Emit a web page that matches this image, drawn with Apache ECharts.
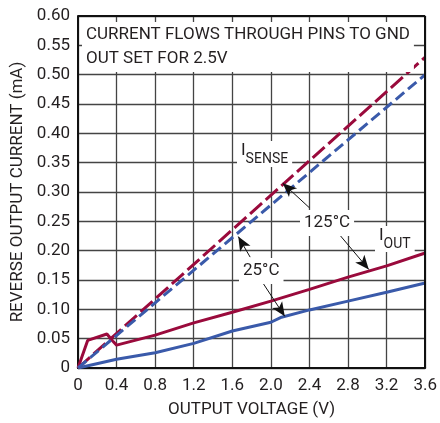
<!DOCTYPE html>
<html><head><meta charset="utf-8">
<script src="https://cdn.jsdelivr.net/npm/echarts@6/dist/echarts.min.js"></script>
<style>html,body{margin:0;padding:0;background:#fff}#c{width:440px;height:423px}</style>
</head><body><div id="c"></div>
<script>
const xTicks = [0, 0.4, 0.8, 1.2, 1.6, 2.0, 2.4, 2.8, 3.2, 3.6];
const yTicks = [0, 0.05, 0.10, 0.15, 0.20, 0.25, 0.30, 0.35, 0.40, 0.45, 0.50, 0.55, 0.60];
const senseHot = [[0, 0], [3.6, 0.53]];
const senseRoom = [[0, 0], [3.6, 0.50]];
const outHot = [[0, 0], [0.1, 0.047], [0.3, 0.058], [0.36, 0.046], [0.4, 0.039], [0.8, 0.056], [1.2, 0.077], [1.6, 0.095], [2.0, 0.114], [2.4, 0.134], [2.8, 0.155], [3.2, 0.174], [3.6, 0.196]];
const outRoom = [[0, 0], [0.4, 0.015], [0.8, 0.026], [1.2, 0.042], [1.6, 0.063], [2.0, 0.078], [2.1, 0.086], [2.4, 0.099], [2.8, 0.114], [3.2, 0.129], [3.6, 0.145]];
const arrows = [
  [[2.40, 0.273], [2.123, 0.315]],
  [[2.687, 0.232], [3.015, 0.168]],
  [[1.785, 0.189], [1.662, 0.224]],
  [[1.897, 0.150], [2.144, 0.088]]
];
const RED = '#9a0a3c', BLUE = '#3a5aaa';
const FONT = 'Roboto, sans-serif';
const chart = echarts.init(document.getElementById('c'));
const richSub = {
  a: { fontFamily: FONT, fontSize: 17, fontWeight: 'normal', color: '#231f20', lineHeight: 24, verticalAlign: 'top' },
  b: { fontFamily: FONT, fontSize: 14, fontWeight: 'normal', color: '#231f20', lineHeight: 24, verticalAlign: 'bottom', padding: [8, 0, 0, 0] }
};
function lbl(text, left, top, extra) {
  return Object.assign({
    text: text, left: left, top: top, padding: [1, 4, 1, 4], backgroundColor: '#fff',
    textStyle: { fontFamily: FONT, fontSize: 17, fontWeight: 'normal', color: '#231f20', lineHeight: 24 }
  }, extra || {});
}
chart.setOption({
  animation: false,
  grid: { left: 78, right: 11, top: 16, bottom: 55 },
  title: [
    lbl('CURRENT FLOWS THROUGH PINS TO GND\nOUT SET FOR 2.5V', 82, 22),
    lbl('{a|I}{b|SENSE}', 237, 141, { textStyle: { fontFamily: FONT, fontWeight: 'normal', color: '#231f20', rich: richSub } }),
    lbl('125°C', 300, 210),
    lbl('{a|I}{b|OUT}', 375, 226, { textStyle: { fontFamily: FONT, fontWeight: 'normal', color: '#231f20', rich: richSub } }),
    lbl('25°C', 239, 258)
  ],
  xAxis: {
    type: 'value', min: 0, max: 3.6, interval: 0.4,
    name: 'OUTPUT VOLTAGE (V)', nameLocation: 'middle', nameGap: 33,
    nameTextStyle: { fontFamily: FONT, fontSize: 17, color: '#231f20' },
    axisLine: { lineStyle: { color: '#111', width: 2 } },
    axisTick: { show: false },
    axisLabel: { fontFamily: FONT, fontSize: 17, color: '#231f20', margin: 9,
      formatter: v => { const t = xTicks.find(k => Math.abs(k - v) < 1e-6); return t === 0 ? '0' : t.toFixed(1); } },
    splitLine: { lineStyle: { color: '#444', width: 1.3 } }
  },
  yAxis: {
    type: 'value', min: 0, max: 0.6, interval: 0.05,
    name: 'REVERSE OUTPUT CURRENT (mA)', nameLocation: 'middle', nameGap: 52,
    nameTextStyle: { fontFamily: FONT, fontSize: 17, color: '#231f20' },
    axisLine: { show: true, lineStyle: { color: '#111', width: 2 } },
    axisTick: { show: false },
    axisLabel: { fontFamily: FONT, fontSize: 17, color: '#231f20', margin: 8,
      formatter: v => { const t = yTicks.find(k => Math.abs(k - v) < 1e-6); return t === 0 ? '0' : t.toFixed(2); } },
    splitLine: { lineStyle: { color: '#444', width: 1.3 } }
  },
  series: [
    { type: 'line', data: outRoom, symbol: 'none', lineStyle: { color: BLUE, width: 3 }, z: 3 },
    { type: 'line', data: outHot, symbol: 'none', lineStyle: { color: RED, width: 3 }, z: 3 },
    { type: 'line', data: senseHot, symbol: 'none', lineStyle: { color: RED, width: 3, type: [16, 5] }, z: 3 },
    { type: 'line', data: senseRoom, symbol: 'none', lineStyle: { color: BLUE, width: 3, type: [11, 5] }, z: 3,
      markLine: { silent: true, symbol: ['none', 'arrow'], symbolSize: [9, 14], label: { show: false },
        lineStyle: { color: '#111', width: 1, type: 'solid' },
        data: arrows.map(a => [{ coord: a[0] }, { coord: a[1] }]) } },
    { type: 'line', data: [], markLine: { silent: true, symbol: 'none', label: { show: false },
        lineStyle: { color: '#111', width: 2, type: 'solid' },
        data: [[{ coord: [3.6, 0] }, { coord: [3.6, 0.6] }], [{ coord: [0, 0.6] }, { coord: [3.6, 0.6] }]] } }
  ]
});
</script></body></html>
